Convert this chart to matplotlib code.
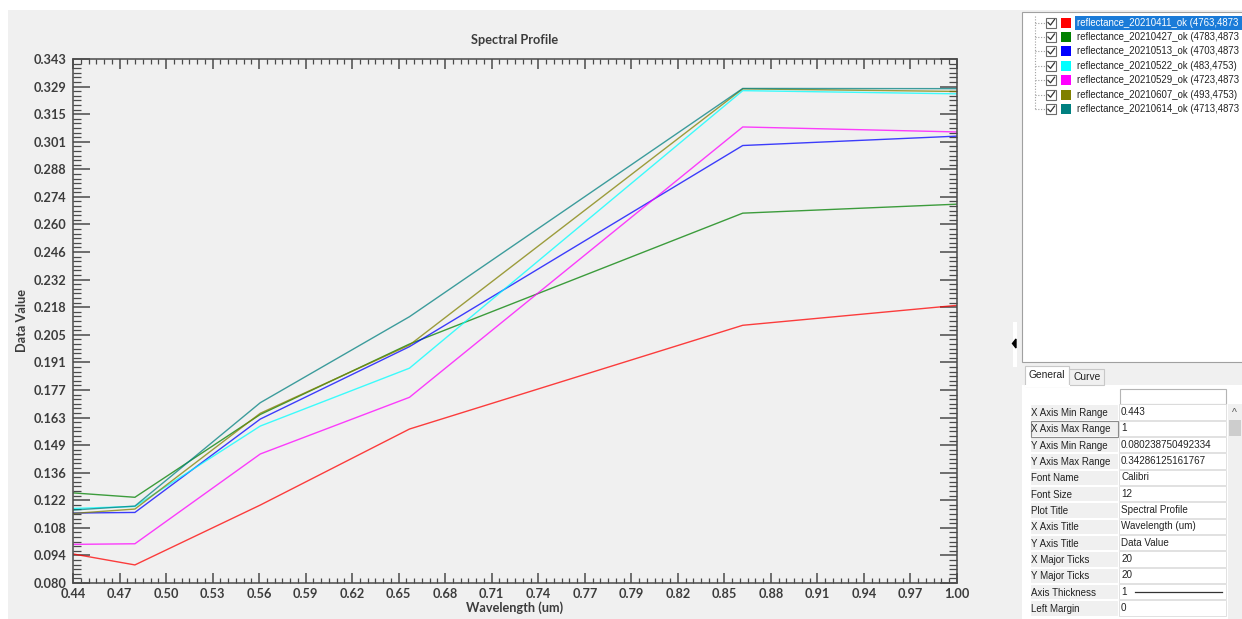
import matplotlib
matplotlib.use("Agg")
import matplotlib.pyplot as plt
from matplotlib.patches import Rectangle, Polygon
from matplotlib.ticker import FixedLocator, FixedFormatter
import numpy as np

# dados (reflectância por banda)
wavelengths = [0.443, 0.482, 0.561, 0.655, 0.865, 1.0]

r_20210411 = [0.0948, 0.0893, 0.1193, 0.1574, 0.2094, 0.2194]
r_20210427 = [0.1254, 0.1232, 0.1647, 0.2000, 0.2656, 0.2701]
r_20210513 = [0.1153, 0.1156, 0.1624, 0.1987, 0.2995, 0.3042]
r_20210522 = [0.1176, 0.1186, 0.1589, 0.1879, 0.3270, 0.3254]
r_20210529 = [0.0996, 0.0999, 0.1449, 0.1733, 0.3088, 0.3063]
r_20210607 = [0.1151, 0.1173, 0.1653, 0.1995, 0.3279, 0.3266]
r_20210614 = [0.1168, 0.1188, 0.1706, 0.2137, 0.3281, 0.3280]

series = [r_20210411, r_20210427, r_20210513, r_20210522, r_20210529, r_20210607, r_20210614]
series_names = [
    "reflectance_20210411_ok (4763,4873",
    "reflectance_20210427_ok (4783,4873",
    "reflectance_20210513_ok (4703,4873",
    "reflectance_20210522_ok (483,4753)",
    "reflectance_20210529_ok (4723,4873",
    "reflectance_20210607_ok (493,4753)",
    "reflectance_20210614_ok (4713,4873",
]
series_colors = ["#ff0000", "#008000", "#0000ff", "#00ffff", "#ff00ff", "#808000", "#008080"]

x_min, x_max = 0.443, 1.0
y_min, y_max = 0.080238750492334, 0.34286125161767
n_major = 20

prop_names = ["X Axis Min Range", "X Axis Max Range", "Y Axis Min Range", "Y Axis Max Range",
              "Font Name", "Font Size", "Plot Title", "X Axis Title", "Y Axis Title",
              "X Major Ticks", "Y Major Ticks", "Axis Thickness", "Left Margin"]
prop_values = ["0.443", "1", "0.080238750492334", "0.34286125161767", "Calibri", "12",
               "Spectral Profile", "Wavelength (um)", "Data Value", "20", "20", "1", "0"]

W, H = 1242, 619
BG = "#f0f0f0"
ui_font = "Liberation Sans"
chart_font = "Lato"

fig = plt.figure(figsize=(W / 100, H / 100), dpi=100, facecolor="white")

# camada de fundo em pixels (janela / painel lateral)
bg = fig.add_axes([0, 0, 1, 1])
bg.set_xlim(0, W)
bg.set_ylim(H, 0)
bg.axis("off")
bg.set_zorder(0)

def rect(x0, y0, x1, y1, fc, ec="none", lw=0.8):
    bg.add_patch(Rectangle((x0, y0), x1 - x0, y1 - y0, facecolor=fc, edgecolor=ec, linewidth=lw))

rect(8, 10, 1012, H, BG)
rect(1012, 10, W, H, BG)
rect(1013, 322, 1017, 367, "white")
bg.add_patch(Polygon([[1016, 339], [1016, 348], [1012.5, 343.5]], closed=True, color="black"))

# árvore com as curvas
rect(1022, 12, W + 2, 362, "white", "#a0a0a0")
row_y = [22.5 + 14.45 * i for i in range(len(series_names))]
bg.plot([1035, 1035], [16, row_y[-1]], ls=(0, (1, 1.5)), color="#a0a0a0", lw=0.8)
for i, (name, col) in enumerate(zip(series_names, series_colors)):
    y = row_y[i]
    bg.plot([1035, 1046], [y, y], ls=(0, (1, 1.5)), color="#a0a0a0", lw=0.8)
    rect(1046, y - 5, 1056, y + 5, "white", "#6b6b6b", 0.8)
    bg.plot([1048, 1050.5, 1054.5], [y, y + 2.5, y - 3], color="#333333", lw=0.9)
    rect(1061, y - 5, 1071, y + 5, col)
    tc = "#222222"
    if i == 0:
        rect(1075, y - 7, W, y + 7, "#1a7bd8")
        tc = "white"
    bg.text(1077, y, name, fontsize=6.95, family=ui_font, color=tc, va="center", ha="left")

# abas
rect(1022, 385, W, H, "white")
rect(1025, 366, 1069, 386, "white", "#c8c8c8")
rect(1069, 369, 1104, 385, BG, "#c8c8c8")
rect(1025, 385, 1070, 387, "white")
bg.text(1047, 375.5, "General", fontsize=7.4, family=ui_font, color="#222222", ha="center", va="center")
bg.text(1087, 377, "Curve", fontsize=7.4, family=ui_font, color="#222222", ha="center", va="center")

# grade de propriedades
rect(1120, 389, 1226, 404, "white", "#b4b4b4")
row_h = 16.33
for i, (pn, pv) in enumerate(zip(prop_names, prop_values)):
    yc = 412 + row_h * i
    rect(1030, yc - row_h / 2 + 0.5, 1118, yc + row_h / 2 - 0.5, BG, "white", 0.8)
    rect(1119, yc - row_h / 2 + 0.5, 1226, yc + row_h / 2 - 0.5, "white", "#dcdcdc", 0.6)
    bg.text(1031, yc + 1, pn, fontsize=7.0, family=ui_font, color="#222222", va="center")
    bg.text(1121, yc, pv, fontsize=7.1, family=ui_font, color="#222222", va="center")
    if pn == "Axis Thickness":
        bg.plot([1135, 1222], [yc, yc], color="#333333", lw=0.9)
rect(1030.5, 420.5, 1118, 436.5, "none", "#8c8c8c", 0.8)

# barra de rolagem
rect(1228, 404, W, H, BG)
rect(1229, 420, 1241, 436, "#cdcdcd")
bg.text(1234.5, 413, "^", fontsize=7.5, family=ui_font, color="#555555", ha="center", va="center")

# gráfico principal
L, R, T, B = 73, 957, 59, 583
ax = fig.add_axes([L / W, 1 - B / H, (R - L) / W, (B - T) / H])
ax.set_zorder(1)
ax.set_facecolor(BG)

for vals, col in zip(series, series_colors):
    ax.plot(wavelengths, vals, color=col, lw=1.0, alpha=0.75, solid_joinstyle="miter")

ax.set_xlim(x_min, x_max)
ax.set_ylim(y_min, y_max)

xt = np.linspace(x_min, x_max, n_major)
yt = np.linspace(y_min, y_max, n_major)
ax.xaxis.set_major_locator(FixedLocator(xt))
ax.xaxis.set_major_formatter(FixedFormatter([f"{v:.2f}" for v in xt]))
ax.yaxis.set_major_locator(FixedLocator(yt))
ax.yaxis.set_major_formatter(FixedFormatter([f"{v:.3f}" for v in yt]))
ax.xaxis.set_minor_locator(FixedLocator(np.linspace(x_min, x_max, (n_major - 1) * 6 + 1)))
ax.yaxis.set_minor_locator(FixedLocator(np.linspace(y_min, y_max, (n_major - 1) * 6 + 1)))

tick_col = "#4a4a4a"
ax.tick_params(axis="x", which="major", direction="in", top=True, bottom=True, length=7.5, width=1.1,
               color=tick_col, pad=3.5)
ax.tick_params(axis="x", which="minor", direction="in", top=True, bottom=True, length=3.3, width=0.9,
               color=tick_col)
ax.tick_params(axis="y", which="major", direction="in", left=True, right=True, length=12, width=1.1,
               color=tick_col, pad=5)
ax.tick_params(axis="y", which="minor", direction="in", left=True, right=True, length=5.8, width=0.9,
               color=tick_col)
for lab in ax.get_xticklabels() + ax.get_yticklabels():
    lab.set_fontfamily(chart_font)
    lab.set_fontweight("bold")
    lab.set_fontsize(9.2)
    lab.set_color("#3c3c3c")
for sp in ax.spines.values():
    sp.set_color(tick_col)
    sp.set_linewidth(1.1)

ax.set_title("Spectral Profile", fontsize=9.2, fontweight="bold", family=chart_font, color="#3c3c3c", pad=11)
ax.set_xlabel("Wavelength (um)", fontsize=9.2, fontweight="bold", family=chart_font, color="#3c3c3c", labelpad=1)
ax.set_ylabel("Data Value", fontsize=9.2, fontweight="bold", family=chart_font, color="#3c3c3c", labelpad=4)

fig.savefig("out.png", dpi=100, facecolor=fig.get_facecolor())
